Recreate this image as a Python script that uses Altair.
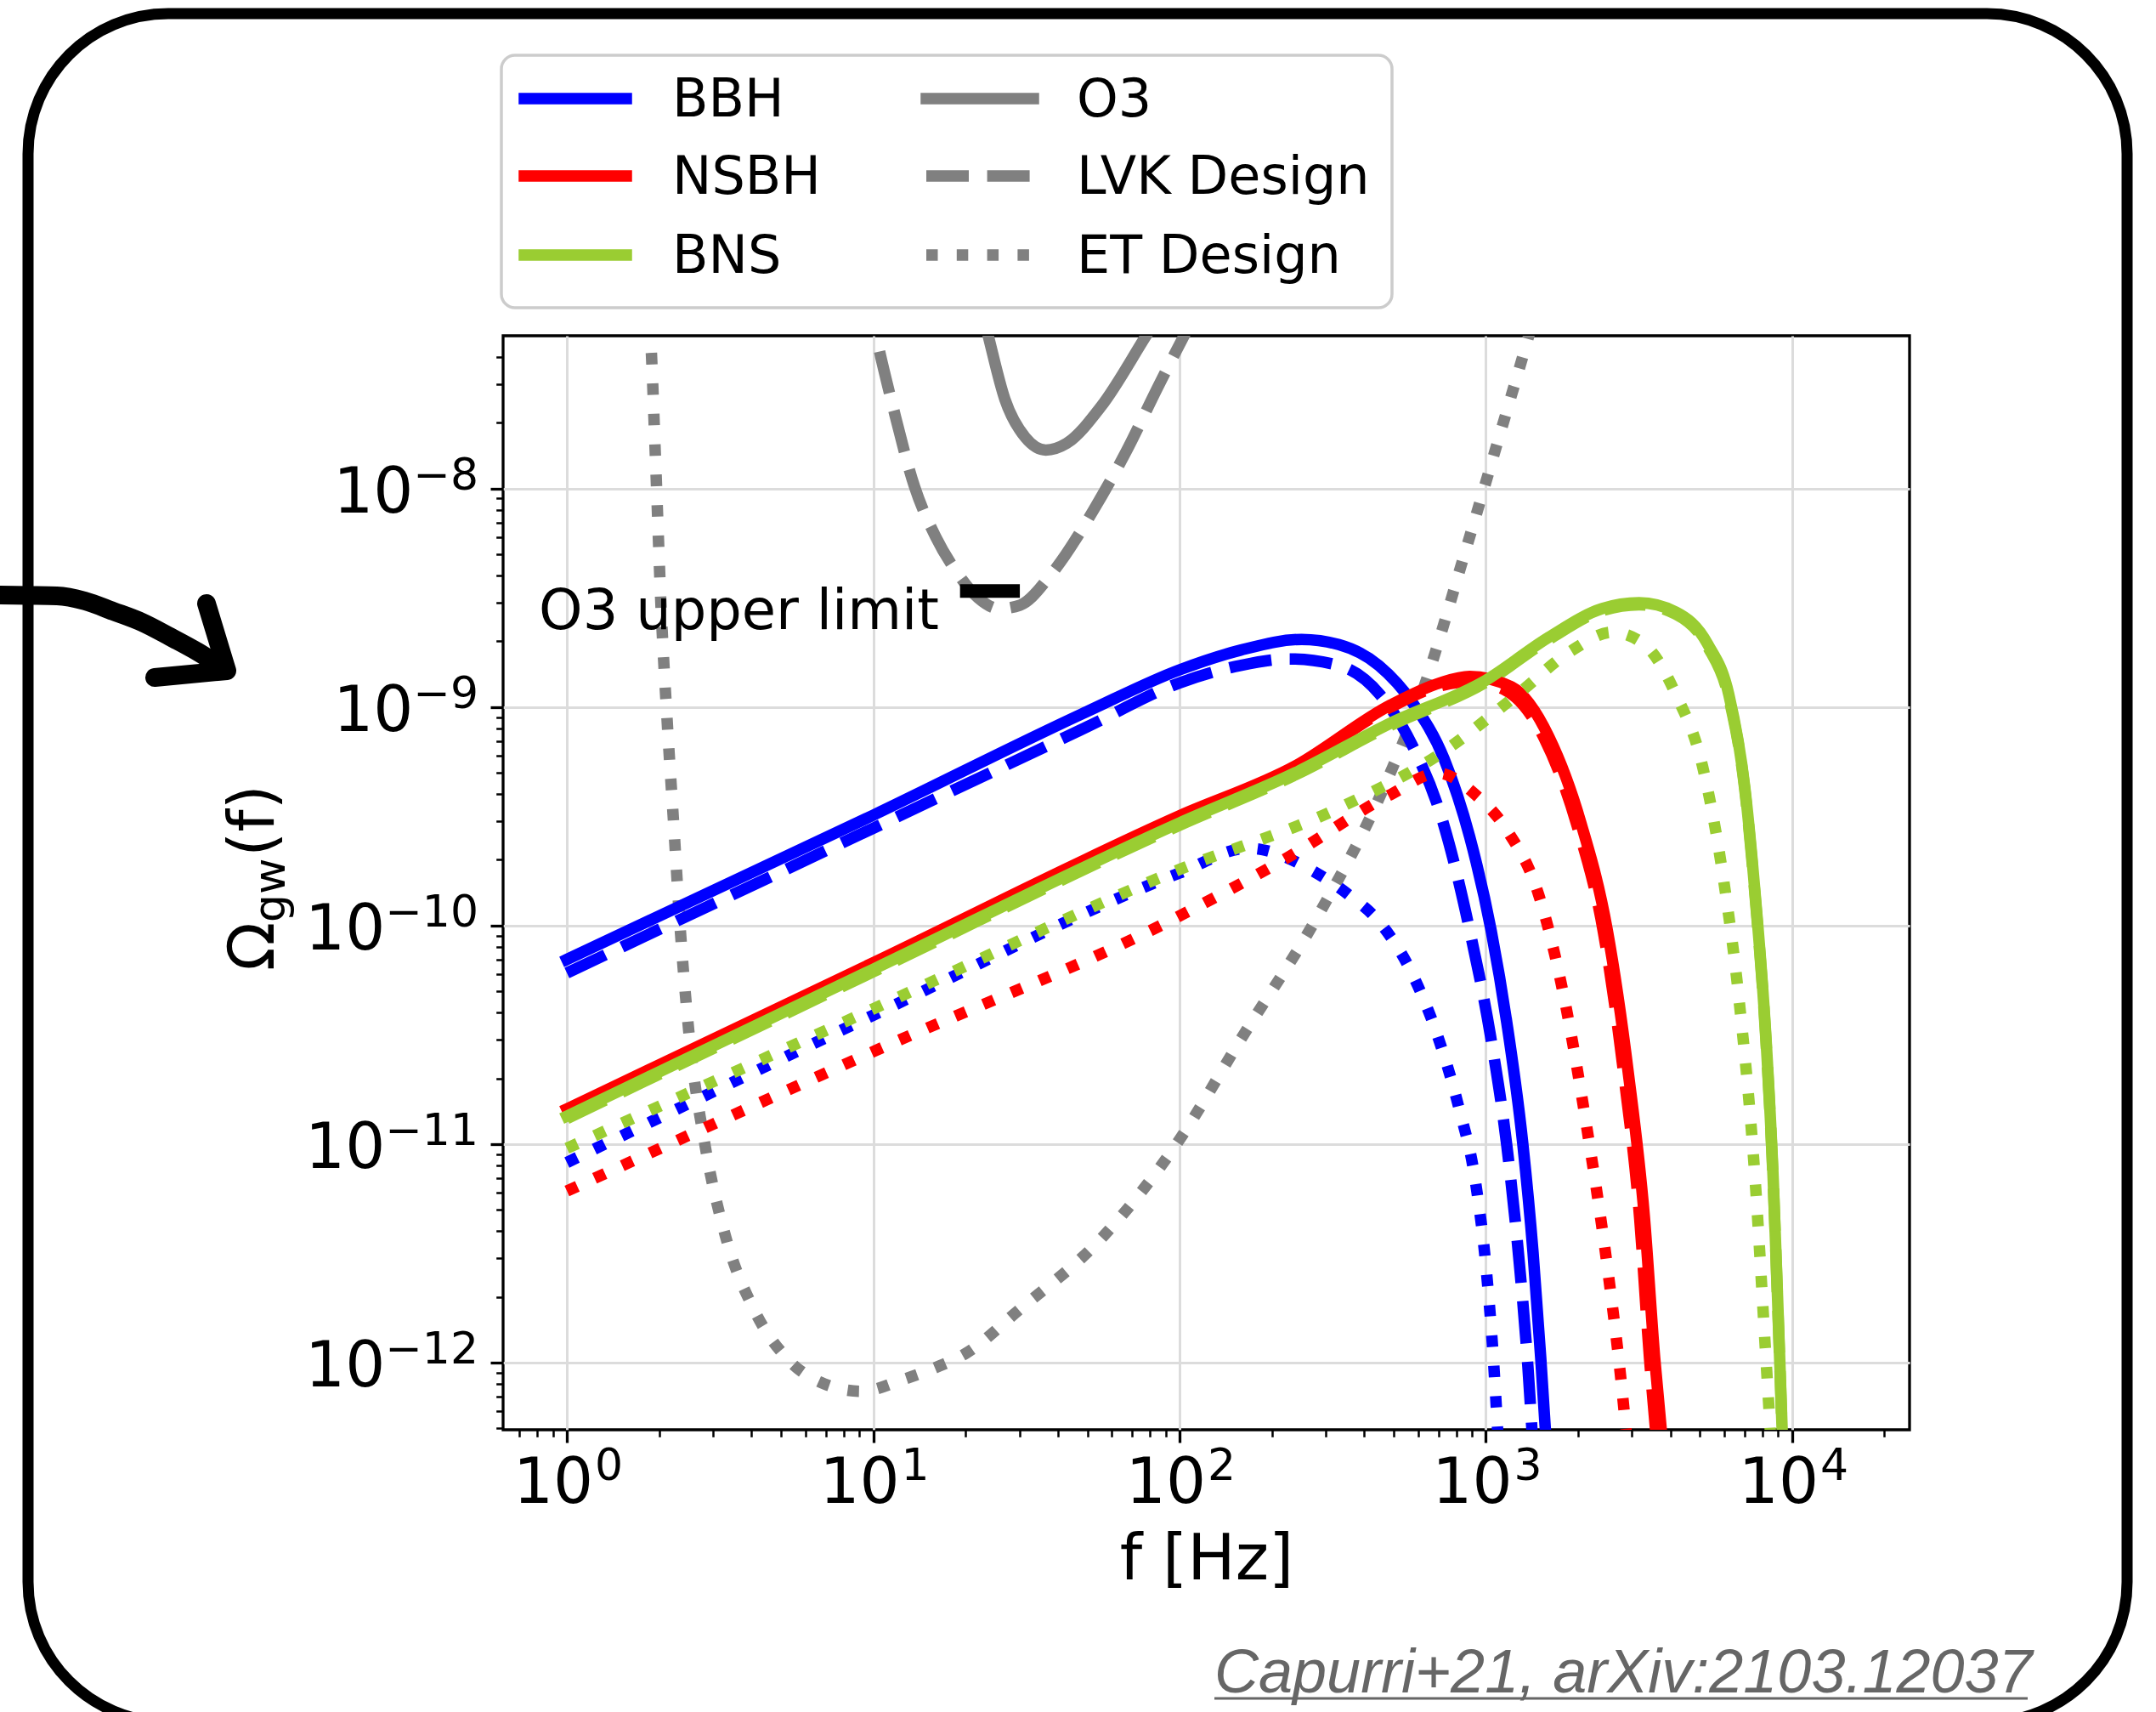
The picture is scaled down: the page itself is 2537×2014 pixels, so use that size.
import altair as alt
import pandas as pd

# ------------------------------------------------------------------
# Data (Capurri+21)
# ------------------------------------------------------------------
# BBH
bbh_o3_f = [1, 10, 50, 100, 158, 250, 331, 447, 575, 730, 885, 1040, 1170, 1320, 1425, 1510, 1570]
bbh_o3_om = [7.0e-11, 3.2e-10, 9.55e-10, 1.48e-9, 1.82e-9, 2.04e-9, 1.93e-9, 1.55e-9, 1.05e-9, 5.8e-10,
             2.55e-10, 9.5e-11, 3.6e-11, 1.0e-11, 3.2e-12, 1.05e-12, 4.5e-13]
bbh_lvk_f = [1, 10, 50, 100, 158, 229, 331, 451, 573, 726, 885, 1037, 1169, 1288, 1371, 1419]
bbh_lvk_om = [6.07e-11, 2.79e-10, 8.13e-10, 1.29e-9, 1.55e-9, 1.66e-9, 1.55e-9, 1.14e-9, 6.75e-10,
              2.94e-10, 9.53e-11, 3.08e-11, 9.95e-12, 2.77e-12, 9.6e-13, 4.5e-13]
bbh_et_f = [1, 10, 100, 167, 280, 355, 451, 573, 698, 818, 923, 1000, 1054, 1096]
bbh_et_om = [8.24e-12, 3.89e-11, 1.74e-10, 2.26e-10, 1.74e-10, 1.39e-10, 1.03e-10, 6.07e-11,
             3.08e-11, 1.45e-11, 6.82e-12, 2.77e-12, 1.12e-12, 4.5e-13]
# NSBH
nsbh_o3_f = [1, 10, 100, 239, 489, 708, 885, 1216, 1607, 2042, 2489, 2917, 3289, 3556, 3758]
nsbh_o3_om = [1.449e-11, 6.76e-11, 3.18e-10, 5.38e-10, 1.023e-9, 1.29e-9, 1.38e-9, 1.233e-9,
              7.28e-10, 2.95e-10, 9.55e-11, 2.11e-11, 4.68e-12, 1.05e-12, 4.5e-13]
nsbh_lvk_f = [1, 10, 100, 239, 489, 708, 885, 1150, 1550, 1980, 2420, 2830, 3180, 3420, 3600]
nsbh_lvk_om = [1.43e-11, 6.65e-11, 3.13e-10, 5.3e-10, 1.0e-9, 1.25e-9, 1.31e-9, 1.2e-9, 7.2e-10,
               2.9e-10, 9.3e-11, 2.0e-11, 4.5e-12, 1.05e-12, 4.5e-13]
nsbh_et_f = [1, 10, 100, 224, 489, 698, 923, 1169, 1486, 1811, 2123, 2489, 2761, 2884]
nsbh_et_om = [6.1e-12, 2.65e-11, 1.107e-10, 2.04e-10, 3.98e-10, 4.99e-10, 3.98e-10, 2.74e-10,
              1.387e-10, 4.49e-11, 1.25e-11, 2.77e-12, 8.3e-13, 4.5e-13]
# BNS
bns_o3_f = [1, 10, 100, 239, 489, 1000, 1607, 2393, 3162, 4169, 5297, 6209, 6998, 7568, 8204,
            8670, 9016, 9290]
bns_o3_om = [1.343e-11, 6.31e-11, 2.95e-10, 5.01e-10, 8.45e-10, 1.327e-9, 2.09e-9, 2.82e-9, 3.0e-9,
             2.72e-9, 1.94e-9, 1.14e-9, 4.3e-10, 1.387e-10, 3.09e-11, 6.82e-12, 1.51e-12, 4.5e-13]
bns_lvk_f = [1, 10, 100, 239, 489, 1000, 1607, 2393, 3162, 4169, 5297, 6209, 6998, 7568, 8204,
             8670, 9016, 9290]
bns_lvk_om = [1.31e-11, 6.15e-11, 2.88e-10, 4.9e-10, 8.25e-10, 1.3e-9, 2.04e-9, 2.76e-9, 2.94e-9,
              2.66e-9, 1.89e-9, 1.1e-9, 4.2e-10, 1.35e-10, 3.0e-11, 6.6e-12, 1.46e-12, 4.4e-13]
bns_et_f = [1, 10, 100, 328, 726, 1268, 1884, 2588, 3289, 4169, 5093, 5970, 6714, 7568, 8204, 8511]
bns_et_om = [9.57e-12, 4.16e-11, 1.807e-10, 3.43e-10, 6.25e-10, 1.143e-9, 1.795e-9, 2.2e-9,
             1.936e-9, 1.143e-9, 5.37e-10, 1.614e-10, 4.49e-11, 6.82e-12, 1.05e-12, 4.5e-13]
# Detector sensitivity curves
o3_f = [21.9, 23.7, 26.9, 31.4, 36.6, 42.8, 55.5, 78.0, 95.5]
o3_om = [7.9e-8, 5.04e-8, 2.56e-8, 1.71e-8, 1.5e-8, 1.61e-8, 2.38e-8, 5.04e-8, 7.9e-8]
lvk_f = [9.55, 10.2, 11.64, 13.65, 16.0, 18.8, 22.0, 25.8, 30.2, 38.4, 52.7, 67.0, 84.9, 103.8, 123]
lvk_om = [7.94e-8, 5.05e-8, 2.32e-8, 1.016e-8, 6.0e-9, 4.11e-9, 3.16e-9, 2.82e-9, 2.93e-9, 4.11e-9,
          8.09e-9, 1.48e-8, 2.91e-8, 5.05e-8, 7.94e-8]
et_f = [1.828, 1.875, 1.95, 2.03, 2.12, 2.23, 2.34, 2.51, 2.82, 3.31, 4.07, 5.25, 6.92, 9.12, 12.6,
        16.0, 20.0, 30.0, 55.5, 100, 158, 282, 447, 631, 851, 1096, 1380, 1514]
et_om = [7.9e-8, 5.0e-8, 1.27e-8, 2.83e-9, 9.1e-10, 2.95e-10, 1.0e-10, 3.1e-11, 1.0e-11, 3.7e-12,
         1.76e-12, 1.04e-12, 8.0e-13, 7.4e-13, 8.4e-13, 9.5e-13, 1.1e-12, 1.75e-12, 3.7e-12,
         1.05e-11, 3.0e-11, 1.1e-10, 3.8e-10, 1.26e-9, 5.0e-9, 1.66e-8, 5.0e-8, 7.9e-8]
# O3 upper limit
o3_limit_f = [19.2, 30.1]
o3_limit_om = 3.4e-9

# Axis ticks and tick labels
x_major = [1, 10, 100, 1000, 10000]
x_major_exp = ["0", "1", "2", "3", "4"]
x_minor = [0.7, 0.8, 0.9, 2, 3, 4, 5, 6, 7, 8, 9, 20, 30, 40, 50, 60, 70, 80, 90,
           200, 300, 400, 500, 600, 700, 800, 900, 2000, 3000, 4000, 5000, 6000, 7000, 8000, 9000, 20000]
y_major = [1e-12, 1e-11, 1e-10, 1e-9, 1e-8]
y_major_exp = ["−12", "−11", "−10", "−9", "−8"]
y_minor = [5e-13, 6e-13, 7e-13, 8e-13, 9e-13,
           2e-12, 3e-12, 4e-12, 5e-12, 6e-12, 7e-12, 8e-12, 9e-12,
           2e-11, 3e-11, 4e-11, 5e-11, 6e-11, 7e-11, 8e-11, 9e-11,
           2e-10, 3e-10, 4e-10, 5e-10, 6e-10, 7e-10, 8e-10, 9e-10,
           2e-9, 3e-9, 4e-9, 5e-9, 6e-9, 7e-9, 8e-9, 9e-9,
           2e-8, 3e-8, 4e-8]

legend_pop = ["BBH", "NSBH", "BNS"]
legend_det = ["O3", "LVK Design", "ET Design"]

# ------------------------------------------------------------------
# Styles
# ------------------------------------------------------------------
FONT = "DejaVu Sans"
BLUE, RED, GREEN, GRAY = "#0000ff", "#ff0000", "#9acd32", "#808080"
LW = 13.5
DASHED = [50, 21.6]
DOTTED = [13.5, 22.3]
W, H = 1655, 1287
PAD_L, PAD_T = 592, 395
TICK_FS, SUP_FS = 74, 52

xs = alt.Scale(type="log", domain=[0.619, 24150], nice=False)
ys = alt.Scale(type="log", domain=[4.93e-13, 5.0e-8], nice=False)


def df_of(f, om):
    return pd.DataFrame({"f": f, "omega": om})


layers = []

# major axes (grid + ticks); labels drawn as text below
major_x = alt.Axis(values=x_major, orient="bottom", labels=False,
                   grid=True, gridColor="#dcdcdc", gridWidth=3, domain=False,
                   ticks=True, tickSize=15, tickWidth=3.3, tickColor="black",
                   title="f [Hz]", titleFont=FONT, titleFontSize=75, titleFontWeight="normal",
                   titleColor="black", titleBaseline="alphabetic", titleAlign="center",
                   titleX=W / 2, titleY=175)
major_y = alt.Axis(values=y_major, orient="left", labels=False,
                   grid=True, gridColor="#dcdcdc", gridWidth=3, domain=False,
                   ticks=True, tickSize=15, tickWidth=3.3, tickColor="black", title=None)
layers.append(alt.Chart(df_of(et_f, et_om)).mark_point(opacity=0).encode(
    x=alt.X("f:Q", scale=xs, axis=major_x), y=alt.Y("omega:Q", scale=ys, axis=major_y)))

minor_x = alt.Axis(values=x_minor, orient="bottom", grid=False, domain=False, labels=False,
                   ticks=True, tickSize=8.3, tickWidth=2.5, tickColor="black", title=None)
minor_y = alt.Axis(values=y_minor, orient="left", grid=False, domain=False, labels=False,
                   ticks=True, tickSize=8.3, tickWidth=2.5, tickColor="black", title=None)
layers.append(alt.Chart(df_of(et_f, et_om)).mark_point(opacity=0).encode(
    x=alt.X("f:Q", scale=xs, axis=minor_x), y=alt.Y("omega:Q", scale=ys, axis=minor_y)))

# tick labels 10^n (base + superscript exponent), positioned through the scales
xl = pd.DataFrame({"f": x_major, "base": ["10"] * len(x_major), "exp": x_major_exp})
layers.append(alt.Chart(xl).mark_text(font=FONT, fontSize=TICK_FS, align="right", baseline="alphabetic",
                                      dx=31, color="black").encode(
    x=alt.X("f:Q", scale=xs, axis=None), y=alt.value(H + 86), text="base:N"))
layers.append(alt.Chart(xl).mark_text(font=FONT, fontSize=SUP_FS, align="left", baseline="alphabetic",
                                      dx=33, color="black").encode(
    x=alt.X("f:Q", scale=xs, axis=None), y=alt.value(H + 59), text="exp:N"))

yl = pd.DataFrame({"omega": y_major, "base": ["10"] * len(y_major), "exp": y_major_exp})
yl["nexp"] = yl["exp"].str.len()
EXP_W = {2: (0.838 + 0.636) * SUP_FS, 3: (0.838 + 2 * 0.636) * SUP_FS}
layers.append(alt.Chart(yl).mark_text(font=FONT, fontSize=SUP_FS, align="right", baseline="alphabetic",
                                      dy=1, color="black").encode(
    x=alt.value(-29), y=alt.Y("omega:Q", scale=ys, axis=None), text="exp:N"))
for n, wexp in EXP_W.items():
    layers.append(alt.Chart(yl[yl["nexp"] == n]).mark_text(
        font=FONT, fontSize=TICK_FS, align="right", baseline="alphabetic", dy=28, color="black").encode(
        x=alt.value(-29 - wexp), y=alt.Y("omega:Q", scale=ys, axis=None), text="base:N"))


def curve(f, om, color, dash=None):
    kw = dict(clip=True, strokeWidth=LW, color=color, interpolate="monotone", strokeJoin="round")
    if dash is not None:
        kw.update(strokeDash=dash, strokeCap="butt")
    else:
        kw.update(strokeCap="square")
    return alt.Chart(df_of(f, om)).mark_line(**kw).encode(
        x=alt.X("f:Q", scale=xs, axis=None), y=alt.Y("omega:Q", scale=ys, axis=None))


# sensitivity curves
layers.append(curve(o3_f, o3_om, GRAY))
layers.append(curve(lvk_f, lvk_om, GRAY, DASHED))
layers.append(curve(et_f, et_om, GRAY, DOTTED))
# populations
layers.append(curve(bbh_o3_f, bbh_o3_om, BLUE))
layers.append(curve(bbh_lvk_f, bbh_lvk_om, BLUE, DASHED))
layers.append(curve(bbh_et_f, bbh_et_om, BLUE, DOTTED))
layers.append(curve(nsbh_o3_f, nsbh_o3_om, RED))
layers.append(curve(nsbh_lvk_f, nsbh_lvk_om, RED, DASHED))
layers.append(curve(nsbh_et_f, nsbh_et_om, RED, DOTTED))
layers.append(curve(bns_o3_f, bns_o3_om, GREEN))
layers.append(curve(bns_lvk_f, bns_lvk_om, GREEN, DASHED))
layers.append(curve(bns_et_f, bns_et_om, GREEN, DOTTED))

# O3 upper limit bar + annotation (data coordinates)
lim_df = pd.DataFrame({"f1": [o3_limit_f[0]], "f2": [o3_limit_f[1]], "omega": [o3_limit_om]})
layers.append(alt.Chart(lim_df).mark_rule(color="black", strokeWidth=16, strokeCap="butt").encode(
    x=alt.X("f1:Q", scale=xs, axis=None), x2="f2:Q", y=alt.Y("omega:Q", scale=ys, axis=None)))
ann_df = pd.DataFrame({"f": [0.81], "omega": [2.28e-9], "txt": ["O3 upper limit"]})
layers.append(alt.Chart(ann_df).mark_text(font=FONT, fontSize=65.5, align="left", baseline="alphabetic",
                                          color="black").encode(
    x=alt.X("f:Q", scale=xs, axis=None), y=alt.Y("omega:Q", scale=ys, axis=None), text="txt:N"))

one = pd.DataFrame({"k": [0]})


def px(xf):
    return xf - PAD_L


def py(yf):
    return yf - PAD_T


# y axis title  Ω_gw(f)  (rotated)
ylab_x = 322
for txt, y0, size, dx in [("Ω", 1142, 75, 0), ("gw", 1085, 52, 13), ("(f)", 1008, 75, 0)]:
    layers.append(alt.Chart(one).mark_text(text=txt, font=FONT, fontSize=size, angle=270, align="left",
                                           baseline="alphabetic", color="black").encode(
        x=alt.value(px(ylab_x + dx)), y=alt.value(py(y0))))

# legend
layers.append(alt.Chart(one).mark_rect(fillOpacity=0.8, fill="white", stroke="#cccccc", strokeWidth=3.5,
                                       cornerRadius=16).encode(
    x=alt.value(px(590)), x2=alt.value(px(1638)), y=alt.value(py(65)), y2=alt.value(py(362))))
rows_y = [116, 207, 300]
for lab, col, yy in zip(legend_pop, [BLUE, RED, GREEN], rows_y):
    layers.append(alt.Chart(one).mark_rule(color=col, strokeWidth=LW, strokeCap="square").encode(
        x=alt.value(px(617)), x2=alt.value(px(737)), y=alt.value(py(yy))))
    layers.append(alt.Chart(one).mark_text(text=lab, font=FONT, fontSize=62, align="left",
                                           baseline="alphabetic", color="black").encode(
        x=alt.value(px(791)), y=alt.value(py(yy + 21))))
for lab, dash, yy in zip(legend_det, [None, DASHED, DOTTED], rows_y):
    kw = dict(color=GRAY, strokeWidth=LW)
    if dash is None:
        kw.update(strokeCap="square")
    else:
        kw.update(strokeDash=dash, strokeCap="butt")
    layers.append(alt.Chart(one).mark_rule(**kw).encode(
        x=alt.value(px(1090)), x2=alt.value(px(1216)), y=alt.value(py(yy))))
    layers.append(alt.Chart(one).mark_text(text=lab, font=FONT, fontSize=62, align="left",
                                           baseline="alphabetic", color="black").encode(
        x=alt.value(px(1267)), y=alt.value(py(yy + 21))))

# slide frame (rounded rectangle)
layers.append(alt.Chart(one).mark_rect(fillOpacity=0, stroke="black", strokeWidth=13,
                                       cornerRadius=165).encode(
    x=alt.value(px(33)), x2=alt.value(px(2503)), y=alt.value(py(16)), y2=alt.value(py(2026))))

# hand-drawn arrow
shaft = pd.DataFrame({"x": [px(v) for v in [-10, 33, 67, 100, 133, 167, 200, 233, 266]],
                      "y": [py(v) for v in [700, 700.5, 701, 707, 719, 732, 749, 767, 788]],
                      "o": list(range(9))})
layers.append(alt.Chart(shaft).mark_line(color="black", strokeWidth=22, strokeCap="round",
                                         strokeJoin="round", interpolate="monotone").encode(
    x=alt.X("x:Q", scale=None, axis=None), y=alt.Y("y:Q", scale=None, axis=None), order="o:Q"))
head = pd.DataFrame({"x": [px(v) for v in [243, 267, 182]],
                     "y": [py(v) for v in [710, 789, 797]], "o": [0, 1, 2]})
layers.append(alt.Chart(head).mark_line(color="black", strokeWidth=22, strokeCap="round",
                                        strokeJoin="round").encode(
    x=alt.X("x:Q", scale=None, axis=None), y=alt.Y("y:Q", scale=None, axis=None), order="o:Q"))

# citation
layers.append(alt.Chart(one).mark_text(text="Capurri+21, arXiv:2103.12037", font="Liberation Sans",
                                       fontStyle="italic", fontSize=72, align="left", baseline="alphabetic",
                                       color="#666666").encode(
    x=alt.value(px(1429)), y=alt.value(py(1991))))
layers.append(alt.Chart(one).mark_rule(color="#666666", strokeWidth=3).encode(
    x=alt.value(px(1429)), x2=alt.value(px(2386)), y=alt.value(py(1998))))

chart = alt.layer(*layers).resolve_axis(x="independent", y="independent").properties(
    width=W, height=H,
    autosize=alt.AutoSizeParams(type="none"),
    padding={"left": PAD_L, "top": PAD_T, "right": 2537 - PAD_L - W, "bottom": 2014 - PAD_T - H},
    background="white",
).configure_view(stroke="black", strokeWidth=3.3)

chart.save("out.html", embed_options={"renderer": "svg", "actions": False})
